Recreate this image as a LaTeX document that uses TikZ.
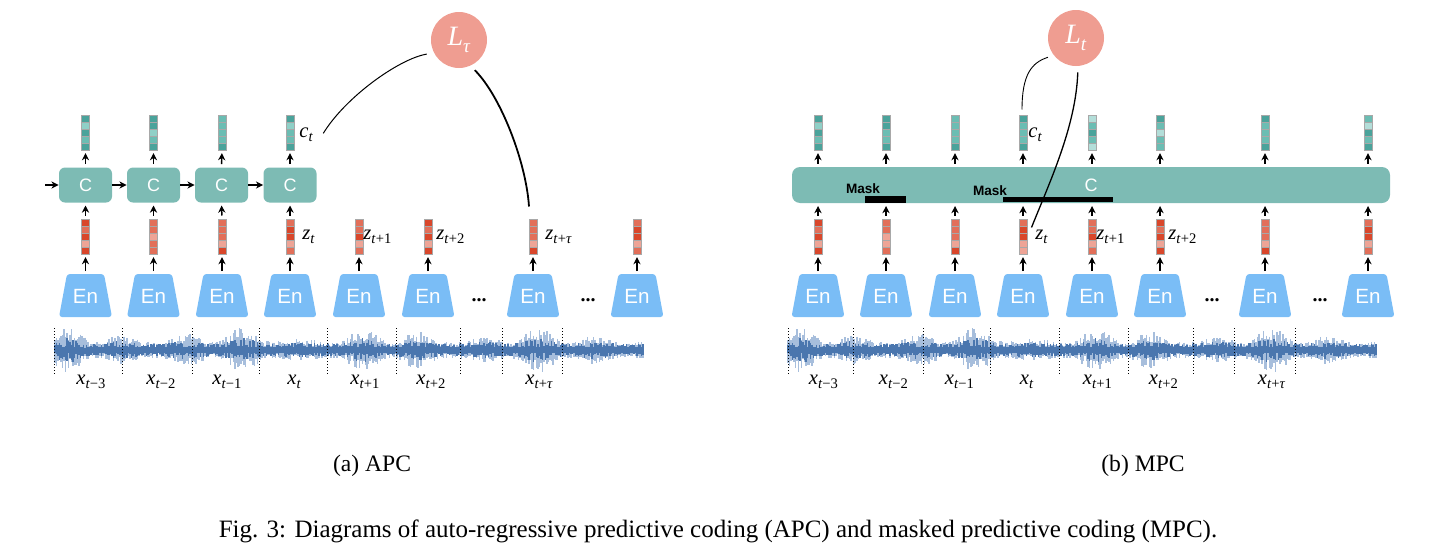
\documentclass[tikz,border=0pt]{standalone}
\usepackage{fontspec}
\setmainfont{Liberation Serif}
\setsansfont{Liberation Sans}
\usetikzlibrary{arrows.meta,calc}
\definecolor{T1}{HTML}{4AA39B}
\definecolor{T2}{HTML}{6BBDB3}
\definecolor{T3}{HTML}{8FD0C7}
\definecolor{T4}{HTML}{B3DED9}
\definecolor{R1}{HTML}{D9472B}
\definecolor{R2}{HTML}{E26F59}
\definecolor{R3}{HTML}{EEA496}
\definecolor{vgray}{HTML}{A8A8A8}
\definecolor{cteal}{HTML}{7DBBB4}
\definecolor{enblue}{HTML}{7ABDF6}
\definecolor{lsalmon}{HTML}{EF9D91}
\definecolor{wlight}{HTML}{A7BEDC}
\definecolor{wdark}{HTML}{4A76AE}

\newcommand{\idx}[2]{\textit{#1}\raisebox{-0.45ex}{\fontsize{7.3}{7.3}\selectfont\textit{t}#2}}

\newcommand{\featvec}[4]{%
  \foreach \cc [count=\k from 0] in {#4} {\fill[fill=\cc] (#2-4,#3+7*\k) rectangle ++(8,7);}
  \foreach \k in {1,...,4} {\draw[vgray,line width=0.35pt] (#2-4,#3+7*\k) -- ++(8,0);}
  \node[vecframe] (#1) at (#2,#3+17.5) {};}

\newcommand{\encoder}[2]{%
  \fill[enblue, rounded corners=1.5pt] (#2-26.5,317) -- (#2-18.5,274) -- (#2+18.5,274) -- (#2+26.5,317) -- cycle;
  \node[entext] (#1) at (#2,296) {En};}

\newcommand{\wave}[3]{%
  \pgfmathsetseed{4242}
  \foreach \x in {#1,#2,...,#3} {
    \pgfmathsetmacro\wU{\x-#1}
    \pgfmathsetmacro\wE{8+15*(0.5+0.5*sin(6.1*\wU+20))*(0.6+0.4*sin(2.3*\wU+50))*min(1,(#3-\x)/40+0.3)}
    \pgfmathsetmacro\wAu{\wE*(0.4+0.6*rnd)}
    \pgfmathsetmacro\wAd{\wE*(0.4+0.6*rnd)}
    \pgfmathsetmacro\wBu{2.5+0.45*\wE*rnd}
    \pgfmathsetmacro\wBd{2.5+0.45*\wE*rnd}
    \draw[wlight,line width=0.75pt] (\x,350-\wAu) -- (\x,350+\wAd);
    \draw[wdark,line width=0.6pt] (\x,350-\wBu) -- (\x,350+\wBd);
  }}

\begin{document}
\begin{tikzpicture}[x=0.5pt,y=-0.5pt,
  vecframe/.style={draw=vgray,line width=0.5pt,minimum width=4pt,minimum height=17.5pt,inner sep=0pt},
  entext/.style={minimum width=18.5pt,minimum height=21.5pt,inner sep=0pt,text=white,font=\sffamily\fontsize{10.3}{10.3}\selectfont},
  cbox/.style={rounded corners=3pt,fill=cteal,minimum width=26.5pt,minimum height=17.5pt,inner sep=0pt,text=white,font=\sffamily\fontsize{9}{9}\selectfont},
  arr/.style={-{Stealth[length=3.6pt,width=3.6pt]},line width=0.7pt,shorten <=1.5pt,shorten >=1.3pt},
  harr/.style={-{Stealth[length=3.6pt,width=3.6pt]},line width=0.7pt},
  lossnode/.style={circle,fill=lsalmon,minimum size=28pt,inner sep=0pt,text=white,font=\fontsize{14}{14}\selectfont},
  lab/.style={anchor=base west,inner sep=0pt,font=\fontsize{10.3}{10.3}\selectfont},
  dotsl/.style={font=\bfseries\fontsize{10}{10}\selectfont,inner sep=0pt},
  masklab/.style={font=\sffamily\bfseries\fontsize{6.8}{6.8}\selectfont,inner sep=0pt},
  maskbar/.style={fill=black,inner sep=0pt},
  seg/.style={line width=0.45pt,dash pattern=on 0.6pt off 0.9pt},
  thinc/.style={line width=0.5pt},
  thickc/.style={line width=0.9pt},
  captext/.style={font=\fontsize{11.8}{11.8}\selectfont,inner sep=0pt},
  figtext/.style={font=\fontsize{12.5}{12.5}\selectfont,inner sep=0pt}
]
\useasboundingbox (0,0) rectangle (1434,557);

% ================= (a) APC =================
\wave{55}{56.5}{643}
\foreach \d in {54,122,192,259,327,396,460,502,562} {\draw[seg] (\d,328) -- (\d,374);}
\node[lab] (lx1) at (76,384) {\idx{x}{−3}};
\node[lab] (lx2) at (146,384) {\idx{x}{−2}};
\node[lab] (lx3) at (212,384) {\idx{x}{−1}};
\node[lab] (lx4) at (287,384) {\idx{x}{}};
\node[lab] (lx5) at (350,384) {\idx{x}{+1}};
\node[lab] (lx6) at (416,384) {\idx{x}{+2}};
\node[lab] (lx7) at (525,384) {\idx{x}{+\textit{τ}}};

\encoder{le1}{85.5}
\encoder{le2}{153.5}
\encoder{le3}{222}
\encoder{le4}{290}
\encoder{le5}{359}
\encoder{le6}{428}
\encoder{le7}{533}
\encoder{le8}{637}
\node[dotsl] (ldots1) at (479,300) {...};
\node[dotsl] (ldots2) at (588,300) {...};

\featvec{lz1}{85.5}{219}{R1,R2,R1,R3,R1}
\featvec{lz2}{153.5}{219}{R2,R2,R3,R2,R2}
\featvec{lz3}{222}{219}{R2,R2,R2,R3,R1}
\featvec{lz4}{290}{219}{R2,R1,R1,R3,R2}
\featvec{lz5}{359}{219}{R2,R2,R1,R3,R2}
\featvec{lz6}{428}{219}{R1,R2,R1,R3,R1}
\featvec{lz7}{533}{219}{R2,R2,R2,R3,R1}
\featvec{lz8}{637}{219}{R2,R1,R1,R3,R2}
\foreach \i in {1,...,8} {\draw[arr] (le\i.north) -- (lz\i.south);}

\node[cbox] (lc1) at (85.5,185) {C};
\node[cbox] (lc2) at (153.5,185) {C};
\node[cbox] (lc3) at (221.5,185) {C};
\node[cbox] (lc4) at (290,185) {C};
\coordinate (lin) at (45,185);
\draw[harr] (lin) -- (lc1.west);
\draw[harr] (lc1.east) -- (lc2.west);
\draw[harr] (lc2.east) -- (lc3.west);
\draw[harr] (lc3.east) -- (lc4.west);

\featvec{lcv1}{85.5}{115}{T1,T3,T1,T2,T1}
\featvec{lcv2}{153.5}{115}{T1,T1,T3,T2,T1}
\featvec{lcv3}{222}{115}{T2,T2,T2,T2,T1}
\featvec{lcv4}{290}{115}{T1,T3,T2,T2,T1}
\foreach \i in {1,...,4} {
  \draw[arr] (lz\i.north) -- (lc\i.south);
  \draw[arr] (lc\i.north) -- (lcv\i.south);
}

\node[lab] (lct) at (299,137) {\idx{c}{}};
\node[lab] (lzt1) at (302,239) {\idx{z}{}};
\node[lab] (lzt2) at (363,239) {\idx{z}{+1}};
\node[lab] (lzt3) at (436,239) {\idx{z}{+2}};
\node[lab] (lzt4) at (545,239) {\idx{z}{+\textit{τ}}};

\node[lossnode] (lL) at (459,40) {\textit{L}\raisebox{-0.5ex}{\fontsize{9.5}{9.5}\selectfont\textit{τ}}};
\coordinate (lcs) at ($(lct.east)+(10,-1)$);
\coordinate (lze) at ($(lz7.north)+(-4,-12)$);
\draw[thinc,shorten >=3.5pt] (lcs) .. controls +(22,-36) and +(-35,6) .. (lL.207);
\draw[thickc,shorten <=3pt] (lL.-66) .. controls +(30,30) and +(-3,-45) .. (lze);

\node[captext] (capa) at (372,466) {(a) APC};

% ================= (b) MPC =================
\wave{788}{789.5}{1376}
\foreach \d in {788,853,923,990,1059,1128,1193,1234,1295} {\draw[seg] (\d,328) -- (\d,374);}
\node[lab] (rx1) at (808.5,384) {\idx{x}{−3}};
\node[lab] (rx2) at (878.5,384) {\idx{x}{−2}};
\node[lab] (rx3) at (944.5,384) {\idx{x}{−1}};
\node[lab] (rx4) at (1019.5,384) {\idx{x}{}};
\node[lab] (rx5) at (1082.5,384) {\idx{x}{+1}};
\node[lab] (rx6) at (1148.5,384) {\idx{x}{+2}};
\node[lab] (rx7) at (1257.5,384) {\idx{x}{+\textit{τ}}};

\encoder{re1}{818}
\encoder{re2}{886}
\encoder{re3}{955}
\encoder{re4}{1023}
\encoder{re5}{1092}
\encoder{re6}{1160}
\encoder{re7}{1265}
\encoder{re8}{1368}
\node[dotsl] (rdots1) at (1212,300) {...};
\node[dotsl] (rdots2) at (1320,300) {...};

\featvec{rz1}{818}{219}{R1,R2,R1,R3,R1}
\featvec{rz2}{886}{219}{R2,R2,R3,R3,R2}
\featvec{rz3}{955}{219}{R2,R2,R2,R3,R1}
\featvec{rz4}{1023}{219}{R2,R1,R1,R3,R3}
\featvec{rz5}{1092}{219}{R2,R2,R1,R3,R2}
\featvec{rz6}{1160}{219}{R1,R2,R1,R3,R1}
\featvec{rz7}{1265}{219}{R2,R2,R2,R3,R1}
\featvec{rz8}{1368}{219}{R2,R1,R1,R3,R2}

\node[cbox,minimum width=299pt,minimum height=18pt,rounded corners=4pt] (bar) at (1091,185) {C};

\featvec{rcv1}{818}{115}{T1,T3,T1,T2,T1}
\featvec{rcv2}{886}{115}{T1,T1,T2,T2,T1}
\featvec{rcv3}{955}{115}{T2,T2,T2,T2,T1}
\featvec{rcv4}{1023}{115}{T1,T2,T2,T2,T1}
\featvec{rcv5}{1092}{115}{T4,T2,T1,T2,T4}
\featvec{rcv6}{1160}{115}{T1,T2,T4,T2,T2}
\featvec{rcv7}{1265}{115}{T1,T2,T2,T2,T1}
\featvec{rcv8}{1368}{115}{T2,T4,T1,T2,T1}

\foreach \i in {1,...,8} {
  \draw[arr] (re\i.north) -- (rz\i.south);
  \draw[arr] (rz\i.north) -- (rz\i.north |- bar.south);
  \draw[arr] (rcv\i.south |- bar.north) -- (rcv\i.south);
}

\node[masklab] (m1) at (863,189) {Mask};
\node[maskbar,minimum width=20.5pt,minimum height=3.5pt] (mb1) at (885.5,199.5) {};
\node[masklab] (m2) at (990,191) {Mask};
\node[maskbar,minimum width=55pt,minimum height=2.6pt] (mb2) at (1058,199.5) {};

\node[lab] (rct) at (1028,137) {\idx{c}{}};
\node[lab] (rzt1) at (1035,239) {\idx{z}{}};
\node[lab] (rzt2) at (1096,239) {\idx{z}{+1}};
\node[lab] (rzt3) at (1168,239) {\idx{z}{+2}};

\node[lossnode] (rL) at (1076,38) {\textit{L}\raisebox{-0.5ex}{\fontsize{9.5}{9.5}\selectfont\textit{t}}};
\coordinate (rce) at ($(rcv4.north)+(-1,-5)$);
\coordinate (rze) at ($(rz4.north east)+(4,9)$);
\draw[line width=0.45pt,shorten <=3pt] (rL.218) .. controls +(-22,7) and +(0,-35) .. (rce);
\draw[line width=0.65pt,shorten <=3pt] (rL.-86) .. controls +(-2,60) and +(18,-45) .. (rze);

\node[captext] (capb) at (1143,466) {(b) MPC};

\node[figtext] (fig) at (718,531) {Fig. 3: Diagrams of auto-regressive predictive coding (APC) and masked predictive coding (MPC).};
\end{tikzpicture}
\end{document}
